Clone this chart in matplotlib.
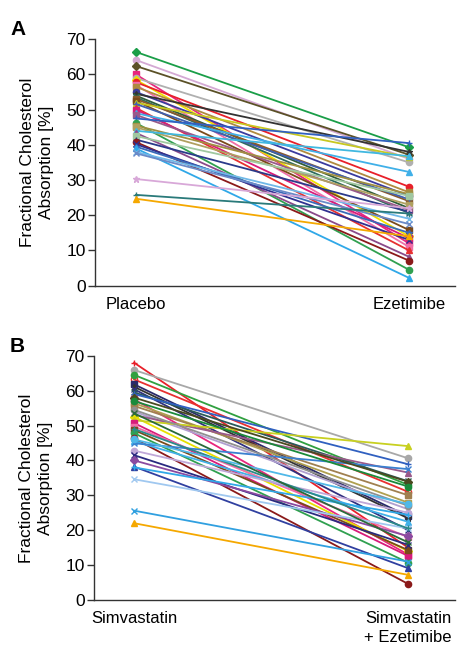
import matplotlib
matplotlib.use("Agg")
import matplotlib.pyplot as plt

plt.rcParams['font.family'] = ['Liberation Sans', 'DejaVu Sans']

# Panel A: placebo -> ezetimibe
cats_a = ['Placebo', 'Ezetimibe']
placebo = [66.4, 64.1, 62.4, 60.0, 59.0, 58.5, 57.8, 57.0, 56.5, 55.0,
           54.5, 54.0, 53.5, 53.0, 52.5, 52.0, 51.6, 50.5, 50.0, 49.0,
           48.5, 47.5, 46.2, 45.5, 45.0, 44.0, 43.4, 42.5, 41.5, 40.8,
           40.2, 39.5, 39.0, 38.0, 37.6, 30.3, 25.8, 24.7]
ezetimibe = [39.3, 36.0, 37.2, 12.0, 35.0, 14.0, 28.1, 11.0, 26.5, 25.5,
             38.0, 22.0, 20.6, 24.0, 15.8, 36.5, 24.5, 10.0, 13.5, 32.3,
             21.5, 40.5, 4.5, 26.0, 23.0, 36.8, 8.2, 25.5, 21.0, 7.1,
             13.0, 15.0, 2.2, 19.0, 17.5, 22.0, 20.5, 14.0]
colors_a = ['#1a9e48', '#d4a9d4', '#5b5127', '#e8267d', '#b0b0b0', '#f0e000',
            '#e8202a', '#f06ea8', '#b08a40', '#3b3b9e', '#333333', '#2f5e3a',
            '#2e6b5e', '#8b5a2b', '#7a4a1a', '#c8c820', '#4060b0', '#e63030',
            '#d81b7a', '#40b0e8', '#9a5a8a', '#3060c0', '#30a050', '#a09040',
            '#b0a060', '#40b8e0', '#8a4a8a', '#a0c8a0', '#2a3a8a', '#8b1a1a',
            '#303090', '#3a6ab8', '#30a8e8', '#70b8e8', '#6a8ac8', '#d8a8d8',
            '#2a7a7a', '#f5a800']
markers_a = ['D', 'o', 'D', 's', 'o', 'D', 'o', 's', 's', 'o',
             '*', 'x', 'x', 's', 's', '^', '+', '^', 's', '^',
             's', '+', 'o', 's', 's', '^', '^', 's', '+', 'o',
             'x', '*', '^', 'x', 'x', '*', '+', '^']

# Panel B: simvastatin -> simvastatin + ezetimibe
cats_b = ['Simvastatin', 'Simvastatin\n+ Ezetimibe']
simva = [68.0, 65.9, 63.2, 64.5, 61.8, 61.1, 60.4, 59.5, 59.0, 57.5,
         56.4, 55.6, 54.0, 53.0, 52.5, 51.5, 50.7, 49.7, 48.7, 47.8,
         46.3, 45.5, 44.9, 42.8, 41.5, 40.0, 38.2, 38.0, 34.6, 25.6,
         22.0, 49.0, 58.0, 57.0, 54.5, 46.0, 53.5]
simva_eze = [15.0, 40.6, 31.0, 33.0, 24.0, 23.4, 20.0, 34.0, 38.9, 13.0,
             27.9, 30.0, 26.0, 36.5, 14.0, 44.1, 12.6, 18.0, 14.3, 10.7,
             4.6, 22.4, 37.5, 25.0, 15.8, 18.3, 9.1, 24.4, 20.5, 11.0,
             7.2, 20.5, 33.9, 32.5, 27.0, 27.5, 16.5]
colors_b = ['#e8202a', '#a8a8a8', '#e83030', '#30a040', '#2a2a6a', '#333333',
            '#303080', '#2a5a5a', '#3060c0', '#e8267d', '#b0a050', '#a08050',
            '#b0a0d0', '#9a5a8a', '#e8e000', '#c8d020', '#d81b7a', '#f06ea8',
            '#7a4a1a', '#30a050', '#8b1a1a', '#40b0e8', '#3a80d0', '#c0a8d8',
            '#2a2a80', '#8a4aa0', '#3040a0', '#30a8e8', '#a0c8f0', '#30a0e0',
            '#f5a800', '#2a8a8a', '#4a4a20', '#1a8a3a', '#909090', '#50b8e8',
            '#2a6a3a']
markers_b = ['+', 'o', 'open', 'o', 's', '*', 'x', 'x', '+', 's',
             's', 's', 'x', '^', 'D', '^', 's', 's', 's', 'o',
             'o', '^', 'x', 'o', 'x', 'D', '^', '+', 'x', 'x',
             '^', '+', 'D', 'o', 'o', 'o', 'x']

yticks = [0, 10, 20, 30, 40, 50, 60, 70]


def draw_panel(ax, cats, left, right, colors, markers, xlim):
    for a, b, c, m in zip(left, right, colors, markers):
        if m == 'open':
            ax.plot([0, 1], [a, b], color=c, lw=1.3, marker='o', ms=4.5,
                    mfc='none', mew=1.0, clip_on=False)
        else:
            ax.plot([0, 1], [a, b], color=c, lw=1.3, marker=m, ms=4.5,
                    mew=1.0, clip_on=False)
    ax.set_xlim(*xlim)
    ax.set_ylim(0, 70)
    ax.set_yticks(yticks)
    ax.set_xticks([0, 1])
    ax.set_xticklabels(cats, fontsize=12, linespacing=1.3)
    ax.tick_params(axis='x', length=0, pad=8)
    ax.tick_params(axis='y', length=5, width=1, direction='out', labelsize=12.5,
                   pad=2, color='#333333')
    for s in ['top', 'right']:
        ax.spines[s].set_visible(False)
    for s in ['left', 'bottom']:
        ax.spines[s].set_color('#333333')
        ax.spines[s].set_linewidth(1.0)
    ax.set_ylabel('Fractional Cholesterol\nAbsorption [%]', fontsize=12.5,
                  linespacing=1.3, labelpad=9)


fig = plt.figure(figsize=(4.58, 6.49), dpi=100)
ax_a = fig.add_axes([0.2085, 0.5598, 0.785, 0.3797])
ax_b = fig.add_axes([0.206, 0.0755, 0.787, 0.3764])

draw_panel(ax_a, cats_a, placebo, ezetimibe, colors_a, markers_a, (-0.148, 1.168))
draw_panel(ax_b, cats_b, simva, simva_eze, colors_b, markers_b, (-0.145, 1.17))

fig.text(0.022, 0.946, 'A', fontsize=15, fontweight='bold', va='baseline')
fig.text(0.022, 0.458, 'B', fontsize=15, fontweight='bold', va='baseline')

fig.savefig('out.png', dpi=100)
